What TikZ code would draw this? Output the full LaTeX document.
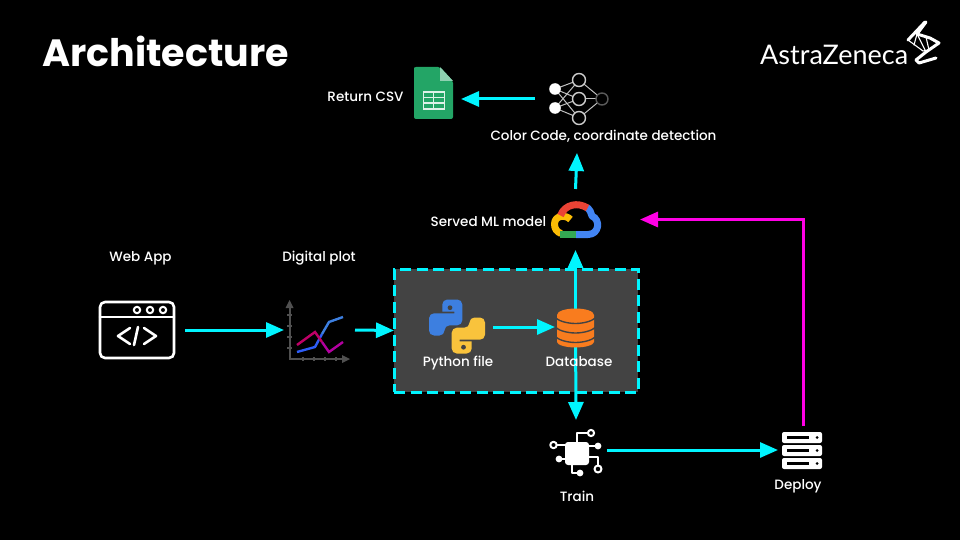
\documentclass[tikz,border=0pt]{standalone}
\usepackage{fontspec}
\setmainfont{Poppins Medium}[BoldFont=Poppins Bold]
\newfontfamily\logofont{Lato}
\usetikzlibrary{arrows.meta}
\definecolor{flowc}{HTML}{00F5FF}
\definecolor{magc}{HTML}{FF00E5}
\definecolor{panel}{HTML}{434343}
\definecolor{pyblue}{HTML}{3D7FE0}
\definecolor{pyyel}{HTML}{F9C33C}
\definecolor{dborange}{HTML}{F97C1E}
\definecolor{sheetg}{HTML}{23A566}
\definecolor{sheetl}{HTML}{8ED1B1}
\definecolor{gred}{HTML}{EA4335}
\definecolor{gblue}{HTML}{4285F4}
\definecolor{ggreen}{HTML}{34A853}
\definecolor{gyel}{HTML}{FBBC05}
\definecolor{axisg}{HTML}{505050}
\newcommand{\pysnake}{(-14.7,-14.8) [rounded corners=5pt] -- (-14.7,-27) -- (5.3,-27) -- (5.3,-1.2) -- (-12.5,-1.2) -- (-12.5,9) -- (-28,9) -- (-28,-13.2) [sharp corners] -- (-2.7,-13.2) -- (-2.7,-14.8) -- cycle}
\tikzset{
  x=1pt,y=-1pt,
  flow/.style={draw=flowc,line width=3pt,-{Triangle[length=18pt,width=15pt]}},
  deployflow/.style={draw=magc,line width=3pt,-{Triangle[length=18pt,width=15pt]}},
  iconbox/.style={inner sep=0pt,outer sep=0pt,draw=none},
  lbl/.style={text=white,font=\fontsize{13.5}{15}\selectfont,inner sep=0pt,anchor=base},
  wline/.style={draw=white,line width=2.6pt,line cap=round,line join=round},
  cir/.style={draw=white,line width=2pt,line cap=round,line join=round},
  nnedge/.style={draw=white!75!black,line width=1pt},
  groupbox/.style={fill=panel,draw=flowc,line width=3pt,dash pattern=on 11pt off 5.5pt,inner sep=0pt,outer sep=0pt},
  gstroke/.style={line width=7pt,line cap=butt,line join=round},
  logothick/.style={draw=white,line width=3pt,line join=round,line cap=round},
  logothin/.style={draw=white,line width=1.1pt,line join=round,line cap=round},
}
\begin{document}
\begin{tikzpicture}
\useasboundingbox (0,0) rectangle (960,540);
\fill[black] (0,0) rectangle (960,540);

% group panel
\node[groupbox,minimum width=244pt,minimum height=123pt] (group) at (516,330.5) {};

% connector anchors (invisible icon frames)
\node[iconbox,minimum width=96pt,minimum height=60pt] (webapp) at (137,330) {};
\node[iconbox,minimum width=71pt,minimum height=60pt] (plotbox) at (319.5,330) {};
\node[iconbox,minimum width=72pt,minimum height=56pt] (python) at (457,327) {};
\node[iconbox,minimum width=41pt,minimum height=40pt] (db) at (575.5,327) {};
\node[iconbox,minimum width=129pt,minimum height=61pt] (cloud) at (575.5,219.5) {};
\node[iconbox,minimum width=84pt,minimum height=108pt] (nn) at (577,99) {};
\node[iconbox,minimum width=55pt,minimum height=54pt] (sheet) at (433.5,99) {};
\node[iconbox,minimum width=62pt,minimum height=60pt] (train) at (576,450) {};
\node[iconbox,minimum width=50pt,minimum height=48pt] (deploy) at (803,450) {};

% connectors
\draw[flow] (webapp.east) -- (plotbox.west);
\draw[flow] (plotbox.east) -- (group.west);
\draw[flow] (python.east) -- (db.west);
\draw[flow] (db.center) -- (cloud.south);
\draw[flow] (db.center) -- (train.north);
\draw[flow] (cloud.north) -- (nn.south);
\draw[flow] (nn.west) -- (sheet.east);
\draw[flow] (train.east) -- (deploy.west);
\draw[deployflow] (deploy.north) |- (cloud.east);

% web app icon
\draw[wline,rounded corners=5pt] (100,302) rectangle (174,358);
\draw[wline] (100,317) -- (174,317);
\foreach \cx in {137,150,163} \draw[draw=white,line width=2pt] (\cx,310) circle [radius=3.2];
\draw[wline] (130,328) -- (118,336) -- (130,344);
\draw[wline] (138,327) -- (134,345);
\draw[wline] (144,328) -- (156,336) -- (144,344);

% digital plot icon
\draw[draw=axisg,line width=2pt] (289.5,306) -- (289.5,359) -- (344,359);
\fill[axisg] (289.5,300) -- (293.5,308) -- (285.5,308) -- cycle;
\fill[axisg] (350,359) -- (342,355) -- (342,363) -- cycle;
\foreach \ty in {315,326,337,348} \draw[draw=axisg,line width=1.2pt] (287,\ty) -- (292,\ty);
\foreach \tx in {303,314,325,336} \draw[draw=axisg,line width=1.2pt] (\tx,357) -- (\tx,361);
\draw[draw=gblue!70!blue,line width=2.4pt] (297,352) -- (315,347) -- (322,334);
\draw[draw=pyblue,line width=2.4pt] (322,334) -- (329,322) -- (343,317);
\draw[draw=magc!60!red!75!black,line width=2.4pt] (297,345) -- (315,332) -- (322,342);
\draw[draw=magc!70!black,line width=2.4pt] (322,342) -- (329,352) -- (343,342);

% python logo
\begin{scope}[shift={(457,326.5)}]
  \fill[pyyel,xscale=-1,yscale=-1] \pysnake;
  \fill[pyblue] \pysnake;
\end{scope}
\fill[panel] (450,307.7) circle [radius=2.4];
\fill[panel] (463.5,347.2) circle [radius=2.4];

% database icon
\fill[dborange] (557,315) .. controls (557,311) and (566,308.5) .. (575.5,308.5) .. controls (585,308.5) and (594,311) .. (594,315) -- (594,342) .. controls (594,345) and (585,347.5) .. (575.5,347.5) .. controls (566,347.5) and (557,345) .. (557,342) -- cycle;
\foreach \gy in {318,327.5,337}
  \draw[draw=panel,line width=1.4pt] (556,\gy) .. controls (560,\gy+4) and (570,\gy+5.5) .. (575.5,\gy+5.5) .. controls (581,\gy+5.5) and (591,\gy+4) .. (595,\gy);

% cloud logo
\draw[draw=gyel,gstroke] (570.5,219.5) .. controls (566,214.5) and (554.5,215) .. (554.5,224) .. controls (554.5,229) and (557,232) .. (561,233.5);
\draw[draw=ggreen,gstroke] (560,234.5) -- (576.5,234.5);
\draw[draw=gblue,gstroke] (576,234.5) -- (588,234.5) .. controls (599,234.5) and (601,220) .. (592,216) .. controls (591.5,212.5) and (589.5,209.5) .. (586.5,207);
\draw[draw=gred,gstroke] (560.5,215.5) .. controls (565,204) and (578,202) .. (587.5,208);

% neural net icon
\foreach \ay in {89,108} {
  \foreach \by in {80,99,118} \draw[nnedge] (555,\ay) -- (579,\by);
}
\foreach \by in {80,99,118} \draw[nnedge] (579,\by) -- (602,99);
\foreach \by in {80,99,118} \filldraw[fill=black,draw=white!80!black,line width=1.4pt] (579,\by) circle [radius=6.5];
\filldraw[fill=black,draw=white!35!black,line width=1.4pt] (602,99) circle [radius=6];
\fill[white] (555,89) circle [radius=5.8];
\fill[white] (555,108) circle [radius=5.8];

% sheet icon
\fill[sheetg,rounded corners=2pt] (414,69) -- (414,67) -- (440,67) -- (453,81) -- (453,119) -- (414,119) -- cycle;
\fill[sheetl] (440,67) -- (453,81) -- (440,81) -- cycle;
\draw[draw=white!85!sheetg,line width=1.8pt] (423.5,92) rectangle (444.5,109);
\draw[draw=white!85!sheetg,line width=1.5pt] (423.5,97.5) -- (444.5,97.5) (423.5,103) -- (444.5,103) (433.5,92) -- (433.5,109);

% train icon
\fill[white,rounded corners=3pt] (565,442) rectangle (589,465);
\draw[cir] (577,442) -- (577,433) -- (588,433);
\draw[cir] (591,433) circle [radius=3.1];
\draw[cir] (565,445) -- (557,445);
\draw[cir] (553.5,445) circle [radius=3.2];
\draw[cir] (589,446) -- (597,446);
\fill[white] (598,446) circle [radius=3.4];
\draw[cir] (565,459) -- (559,459);
\fill[white] (559,459) circle [radius=3.4];
\draw[cir] (589,457) -- (598,457) -- (598,465);
\draw[cir] (598,469) circle [radius=3.5];
\draw[cir] (572,465) -- (572,473) -- (579,473);
\fill[white] (580,473) circle [radius=3.4];

% deploy icon
\foreach \sy in {432,445,458} {
  \fill[white,rounded corners=2pt] (782,\sy) rectangle (822,\sy+11);
  \fill[black] (787,\sy+4.2) rectangle (809,\sy+6.8);
  \fill[black] (817,\sy+5.5) circle [radius=1.5];
}

% astrazeneca logo
\node[inner sep=0pt,anchor=base west,text=white] (azword) at (760,65) {\logofont\fontsize{27}{30}\selectfont AstraZeneca};
\draw[logothick] (908,40) -- (925,22);
\draw[logothick] (926,22) -- (917,34);
\draw[logothin] (908,40) -- (923,51) -- (929,50);
\draw[logothin] (917,34) -- (914,45) (917,34) -- (925,50) (926,37) -- (929,50);
\draw[logothick] (917,34) -- (930,38) -- (939,43) -- (926,52) -- (916,60);
\draw[logothick] (916,60) -- (919,63) -- (936,58);

% texts
\node[anchor=base west,inner sep=0pt,text=white,font=\fontsize{38}{40}\selectfont\bfseries] (title) at (42,67) {Architecture};
\node[lbl] (lreturn) at (365.5,102) {Return CSV};
\node[lbl] (lcolor) at (603.5,141) {Color Code, coordinate detection};
\node[lbl] (lserved) at (488.5,226) {Served ML model};
\node[lbl] (lweb) at (140.5,261) {Web App};
\node[lbl] (ldigital) at (319,261) {Digital plot};
\node[lbl] (lpython) at (458,366) {Python file};
\node[lbl] (ldb) at (579,366) {Database};
\node[lbl] (ltrain) at (577,501) {Train};
\node[lbl] (ldeploy) at (798,489) {Deploy};
\end{tikzpicture}
\end{document}
